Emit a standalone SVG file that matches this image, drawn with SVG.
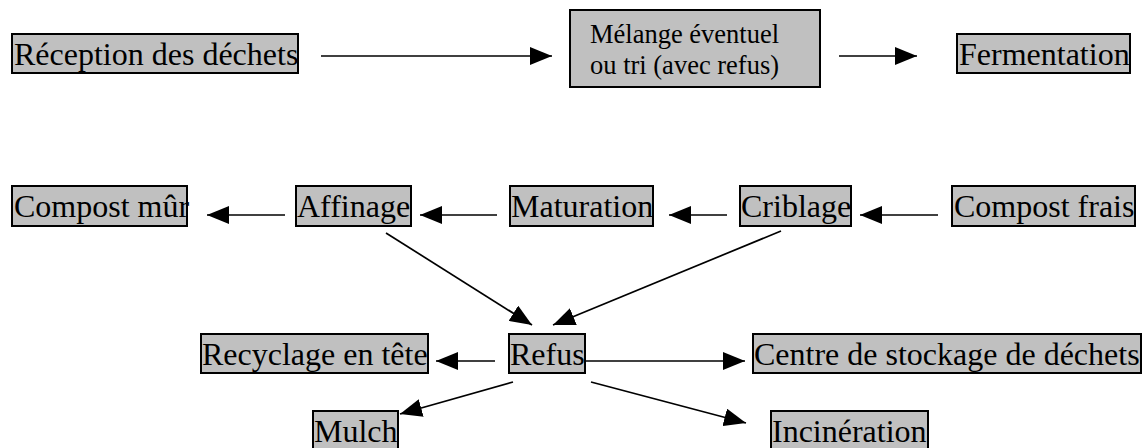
<svg xmlns="http://www.w3.org/2000/svg" width="1144" height="448" viewBox="0 0 1144 448">
<style>
.box{fill:#c0c0c0;stroke:#000;stroke-width:2}
.t{font-family:"Liberation Serif","Times New Roman",serif;font-size:32px;fill:#000}
.ts{font-family:"Liberation Serif","Times New Roman",serif;font-size:26.5px;fill:#000}
.c{stroke:#000;stroke-width:1.7;fill:none;marker-end:url(#ah)}
</style>
<defs>
<marker id="ah" markerUnits="userSpaceOnUse" markerWidth="22" markerHeight="18" refX="22" refY="9" orient="auto">
<path d="M0,0 L22,9 L0,18 z" fill="#000"/>
</marker>
</defs>
<rect width="1144" height="448" fill="#fff"/>
<g id="connectors">
<path class="c" d="M321,56 H552"/>
<path class="c" d="M839,56 H917"/>
<path class="c" d="M285,215 H207"/>
<path class="c" d="M497,215 H420"/>
<path class="c" d="M727,215 H669"/>
<path class="c" d="M938,215 H860"/>
<path class="c" d="M386,233 L532,325"/>
<path class="c" d="M781,231 L553,325"/>
<path class="c" d="M495,361 H436"/>
<path class="c" d="M586,361 H745"/>
<path class="c" d="M513,382 L400,414"/>
<path class="c" d="M591,382 L746,423"/>
</g>
<g id="reception"><rect class="box" x="12" y="34" width="286" height="39"/><text class="t" x="14" y="65">Réception des déchets</text></g>
<g id="melange"><rect class="box" x="570" y="10" width="250" height="77" stroke-width="1.5"/><text class="ts" x="590" y="43">Mélange éventuel</text><text class="ts" x="590" y="74">ou tri (avec refus)</text></g>
<g id="fermentation"><rect class="box" x="957" y="34" width="173" height="39"/><text class="t" x="959" y="65">Fermentation</text></g>
<g id="compost-mur"><rect class="box" x="12" y="186" width="175" height="40"/><text class="t" x="14" y="217">Compost mûr</text></g>
<g id="affinage"><rect class="box" x="296" y="186" width="115" height="40"/><text class="t" x="297" y="217">Affinage</text></g>
<g id="maturation"><rect class="box" x="510" y="186" width="143" height="40"/><text class="t" x="511" y="217">Maturation</text></g>
<g id="criblage"><rect class="box" x="740" y="186" width="111" height="40"/><text class="t" x="741" y="217">Criblage</text></g>
<g id="compost-frais"><rect class="box" x="952" y="186" width="183" height="40"/><text class="t" x="954" y="217">Compost frais</text></g>
<g id="recyclage"><rect class="box" x="201" y="334" width="227" height="39"/><text class="t" x="202" y="365">Recyclage en tête</text></g>
<g id="refus"><rect class="box" x="509" y="334" width="76" height="39"/><text class="t" x="510" y="365">Refus</text></g>
<g id="centre"><rect class="box" x="753" y="334" width="388" height="39"/><text class="t" x="754" y="365">Centre de stockage de déchets</text></g>
<g id="mulch"><rect class="box" x="313" y="411" width="85" height="40"/><text class="t" x="314" y="442">Mulch</text></g>
<g id="incineration"><rect class="box" x="771" y="411" width="157" height="40"/><text class="t" x="772" y="442">Incinération</text></g>
</svg>
